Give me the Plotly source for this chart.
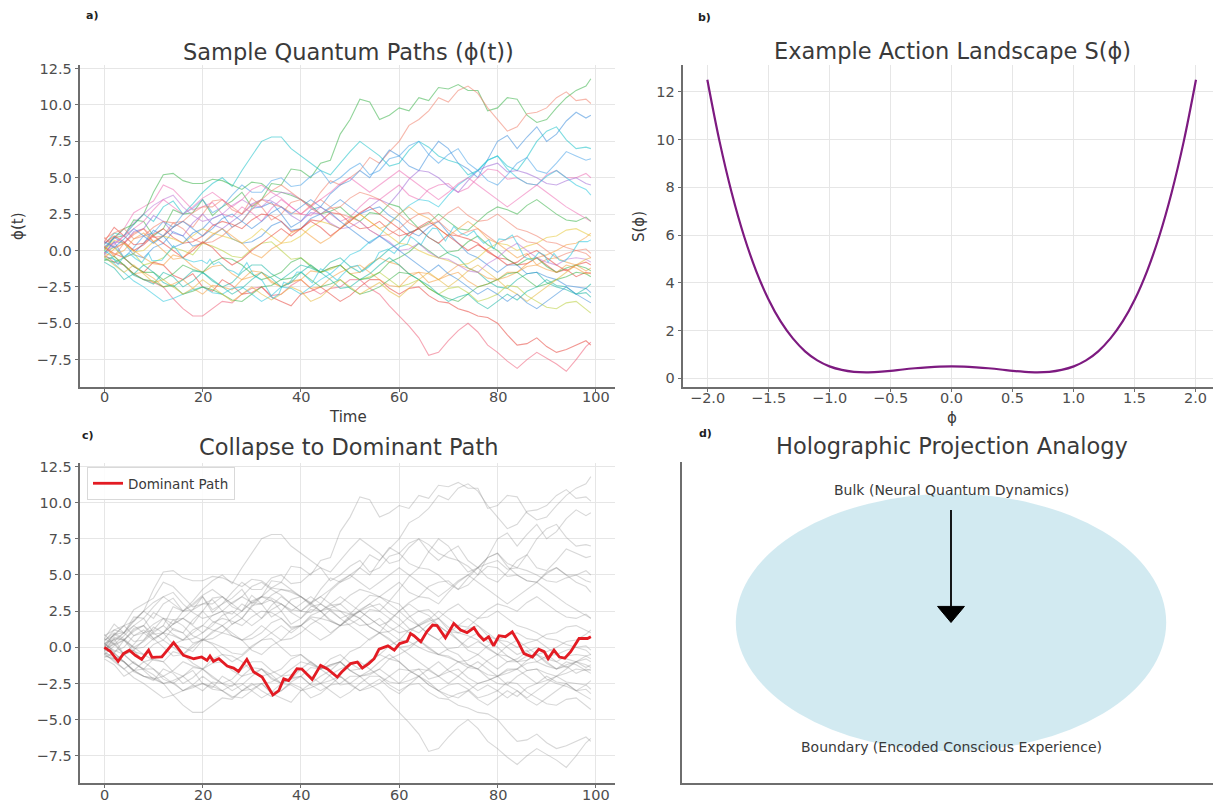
import plotly.graph_objects as go

# ---------------- data ----------------
path_t = [0, 2, 4, 6, 8, 10, 12, 14, 16, 18, 20, 22, 24, 26, 28, 30, 32, 34, 36, 38, 40, 42, 44, 46, 48,
          50, 52, 54, 56, 58, 60, 62, 64, 66, 68, 70, 72, 74, 76, 78, 80, 82, 84, 86, 88, 90, 92, 94, 96, 98, 99]

path_01 = [0, 0.9, 1.0, 2.1, 2.0, 1.0, 1.5, 2.8, 2.5, 2.6, 3.5, 2.4, 3.0, 3.4, 4.0, 3.0, 3.5, 4.6, 4.5, 5.6,
           5.5, 5.0, 6.0, 6.2, 8.0, 9.0, 10.4, 10.2, 9.0, 9.3, 9.8, 9.6, 10.5, 10.3, 11.2, 11.1, 11.4, 11.0, 11.0, 9.6,
           9.8, 10.5, 10.4, 9.3, 8.8, 9.0, 9.8, 10.5, 11.0, 11.3, 11.8]
path_02 = [0.3, -0.4, 0.5, 1.2, 1.5, 0.6, 1.0, 1.9, 2.0, 1.6, 2.5, 3.4, 3.5, 2.8, 2.5, 3.6, 3.0, 2.1, 2.5, 3.3,
           3.5, 3.0, 4.0, 4.8, 4.5, 5.0, 5.5, 6.4, 6.0, 6.8, 7.5, 8.6, 9.0, 9.6, 10.5, 10.2, 11.0, 11.3, 10.8, 9.8,
           9.0, 8.2, 8.5, 9.4, 9.5, 9.8, 10.5, 10.9, 10.3, 10.4, 10.1]
path_03 = [-0.2, 0.6, -0.5, -0.2, 0.5, 1.4, 1.0, 0.2, 0.5, 1.2, 1.5, 2.2, 2.5, 1.6, 2.0, 2.9, 3.0, 3.3, 2.5, 1.6,
           2.0, 2.8, 3.0, 3.9, 4.5, 4.8, 5.5, 5.0, 6.0, 6.9, 6.5, 5.8, 5.5, 6.6, 7.5, 7.0, 6.0, 5.6, 5.0, 6.3,
           7.5, 7.9, 7.0, 7.8, 8.5, 7.5, 8.0, 8.9, 9.5, 9.1, 9.3]
path_04 = [0.4, 1.2, 1.0, 1.8, 2.5, 2.0, 3.0, 3.4, 2.5, 3.2, 4.0, 4.6, 5.0, 4.4, 5.5, 6.5, 7.5, 7.8, 7.8, 7.0,
           6.5, 6.0, 5.5, 5.2, 6.0, 6.8, 7.5, 7.0, 6.5, 5.8, 6.0, 6.9, 7.5, 7.1, 6.5, 6.2, 6.0, 5.2, 5.5, 6.2,
           6.5, 5.8, 5.5, 6.4, 7.5, 8.2, 8.5, 7.6, 7.0, 7.1, 7.0]
path_05 = [-0.3, 0.3, -0.5, 0.2, 1.0, 1.2, 2.0, 1.6, 2.5, 2.9, 3.5, 2.6, 3.0, 3.8, 4.5, 4.0, 4.0, 4.8, 5.0, 4.4,
           4.5, 5.1, 5.5, 4.6, 5.0, 5.6, 6.0, 5.2, 5.5, 6.3, 6.5, 7.2, 7.5, 6.6, 6.0, 6.6, 7.0, 6.0, 5.5, 4.8,
           4.5, 5.2, 6.0, 6.4, 5.5, 5.3, 6.0, 6.8, 6.5, 6.2, 6.3]
path_06 = [0.5, 0.8, 1.5, 2.6, 3.0, 3.4, 4.5, 4.2, 3.5, 2.8, 3.0, 3.3, 2.5, 2.3, 3.0, 2.6, 2.0, 2.9, 3.5, 3.0,
           2.5, 2.4, 3.0, 2.5, 2.0, 2.3, 3.0, 3.6, 3.5, 4.0, 4.5, 3.8, 3.5, 4.2, 4.5, 4.6, 4.0, 4.3, 5.0, 5.6,
           5.5, 4.9, 5.0, 4.6, 4.5, 5.2, 5.5, 5.0, 5.0, 5.3, 5.0]
path_07 = [-0.2, 0.6, 0.5, 1.3, 1.5, 2.4, 2.0, 1.2, 1.0, 1.9, 2.5, 1.8, 1.5, 2.0, 2.5, 3.2, 3.5, 3.4, 3.0, 2.4,
           2.0, 2.6, 2.5, 1.8, 1.5, 2.1, 2.5, 3.0, 3.5, 3.2, 4.0, 4.9, 5.5, 5.4, 5.0, 4.4, 4.0, 4.8, 5.5, 5.8,
           6.0, 5.4, 5.5, 5.3, 5.0, 4.6, 4.5, 4.8, 5.0, 4.6, 4.5]
path_08 = [0.2, 0.9, 1.5, 1.8, 2.5, 4.0, 5.2, 5.3, 4.8, 4.6, 4.6, 4.9, 4.8, 4.5, 4.2, 4.7, 4.6, 4.1, 4.0, 3.8,
           3.5, 3.1, 2.5, 2.7, 3.0, 2.4, 2.0, 2.6, 2.5, 3.2, 3.0, 2.2, 1.5, 1.9, 2.5, 2.0, 1.5, 1.4, 2.0, 2.6,
           3.0, 2.8, 2.5, 3.1, 3.5, 3.0, 2.5, 2.1, 2.0, 2.3, 2.0]
path_09 = [-0.4, -0.6, -1.0, -1.7, -2.0, -2.3, -1.5, -1.8, -2.5, -2.1, -1.5, -2.0, -2.5, -2.2, -1.5, -1.0, -1.0,
           -1.6, -2.0, -1.5, -1.0, -1.2, -1.5, -0.8, -0.5, -1.1, -1.5, -1.0, -0.5, 0.1, 0.5, 1.2, 1.5, 0.9, 0.5,
           -0.2, -0.5, -1.2, -1.5, -2.1, -2.5, -2.6, -2.0, -1.6, -1.5, -2.2, -2.5, -2.7, -3.0, -2.9, -3.2]
path_10 = [0.1, 0.9, 0.5, -0.3, -0.5, 0.2, 0.5, 1.3, 1.0, 0.3, 0.5, 1.0, 1.5, 0.8, 0.5, 0.6, 1.0, 1.7, 2.0, 1.4,
           1.5, 2.2, 2.5, 3.0, 3.5, 3.0, 2.5, 2.8, 3.0, 2.4, 2.0, 1.3, 1.0, 1.6, 2.0, 1.2, 0.5, -0.2, -0.5, -1.0,
           -1.5, -1.0, -1.0, -1.6, -1.5, -1.8, -2.0, -2.4, -2.5, -2.6, -2.9]
path_11 = [-0.1, 0.2, -0.5, -0.2, -1.0, -0.8, -0.5, 0.2, 0.0, -0.3, 0.5, 0.3, 0.0, -0.4, -0.5, 0.1, 0.5, 0.6, 0.0,
           -0.6, -0.5, -1.0, -1.5, -1.3, -1.0, -1.6, -2.0, -1.8, -1.5, -2.0, -2.5, -2.3, -2.0, -2.6, -3.0, -2.6,
           -2.5, -2.9, -3.5, -3.3, -3.0, -2.4, -2.5, -3.1, -3.5, -3.9, -4.0, -3.6, -3.5, -4.0, -4.3]
path_12 = [-0.3, -0.8, -1.0, -1.6, -2.0, -2.2, -2.5, -3.3, -4.0, -4.5, -4.5, -4.0, -3.5, -3.6, -3.0, -2.6, -2.5,
           -3.1, -3.0, -2.4, -2.0, -2.6, -3.0, -2.6, -2.5, -2.0, -2.0, -2.6, -3.0, -3.8, -4.5, -5.2, -6.0, -7.2,
           -7.0, -6.2, -5.5, -5.0, -5.6, -6.5, -7.0, -7.6, -8.1, -7.5, -7.0, -7.4, -7.8, -8.3, -7.5, -6.6, -6.3]
path_13 = [0.2, -0.2, -0.5, -1.1, -1.5, -0.8, -1.0, -1.7, -2.0, -1.6, -2.5, -2.8, -2.0, -2.4, -3.0, -2.9, -2.5,
           -3.2, -3.5, -3.8, -3.0, -2.8, -2.5, -3.0, -3.5, -3.1, -2.5, -2.0, -2.0, -2.6, -3.0, -2.6, -2.5, -3.1,
           -3.5, -3.6, -4.0, -4.2, -4.5, -4.6, -5.0, -5.8, -6.5, -6.4, -6.0, -6.6, -7.0, -6.8, -6.5, -6.2, -6.5]
path_14 = [-0.2, -0.4, -1.0, -1.6, -1.5, -1.9, -2.5, -2.3, -2.0, -2.6, -3.0, -2.4, -2.5, -2.7, -2.0, -1.8, -1.5,
           -2.1, -2.5, -2.2, -2.0, -1.4, -1.5, -1.2, -1.0, -1.6, -1.5, -0.9, -0.5, -0.8, -1.0, -1.6, -1.5, -2.2,
           -2.0, -1.5, -1.0, -1.2, -1.5, -1.9, -2.0, -1.8, -1.5, -1.1, -1.0, -0.6, -0.5, -0.8, -1.0, -1.4, -1.2]
path_15 = [0.6, 1.6, 1.0, 0.4, 0.5, 1.1, 1.5, 0.9, 0.5, 0.6, 1.0, 1.7, 2.0, 1.8, 1.5, 2.1, 2.5, 2.4, 2.0, 1.3,
           1.5, 2.1, 2.0, 2.6, 2.5, 1.9, 1.5, 1.6, 2.0, 1.4, 1.0, 1.2, 1.5, 0.9, 0.5, 1.1, 1.0, 0.8, 0.5, -0.1,
           -0.5, -0.6, -1.0, -0.9, -0.5, -1.0, -1.5, -1.3, -1.8, -1.5, -1.6]
path_16 = [-0.5, 0.1, 0.5, 0.0, -0.5, -0.9, -1.0, -0.3, -0.5, -1.1, -1.5, -1.1, -1.0, -1.6, -2.0, -1.4, -1.5, -2.2,
           -2.5, -2.1, -2.0, -2.6, -2.5, -1.9, -1.5, -1.2, -1.0, -1.5, -2.0, -2.4, -2.5, -1.8, -1.5, -1.6, -2.0,
           -1.7, -1.5, -2.1, -2.5, -2.3, -2.0, -1.5, -1.5, -0.9, -0.5, -0.3, 0.0, 0.4, 0.5, 0.9, 1.2]
path_17 = [0.8, 1.2, 1.5, 0.8, 1.0, 1.6, 2.0, 1.9, 1.5, 0.8, 0.5, 0.6, 1.0, 1.6, 2.0, 2.8, 3.5, 3.2, 3.0, 2.6,
           2.5, 3.1, 3.5, 3.0, 2.5, 2.3, 2.0, 1.4, 1.0, 1.1, 1.5, 2.1, 2.5, 2.6, 2.0, 2.6, 3.0, 2.4, 2.0, 2.1,
           2.5, 2.0, 1.5, 1.3, 1.0, 0.6, 0.5, 0.2, 0.0, -0.2, -0.5]
path_18 = [-0.6, -0.8, -0.5, -1.1, -1.5, -1.5, -2.0, -1.6, -1.0, -1.3, -1.5, -0.8, -0.5, -0.6, -1.0, -1.6, -2.0,
           -1.8, -1.5, -0.8, -0.5, -1.1, -1.5, -1.2, -1.0, -1.6, -2.0, -1.9, -1.5, -0.8, -0.5, -0.1, 0.5, 0.0,
           -0.5, -0.1, 0.0, 0.6, 1.0, 0.4, 0.0, -0.6, -1.0, -0.6, -0.5, -1.1, -1.5, -1.2, -1.0, -1.2, -1.4]
path_19 = [0.0, 0.7, 0.5, -0.1, 0.0, 0.6, 1.0, 0.8, 0.5, 1.0, 1.5, 1.2, 1.0, 0.8, 0.5, 0.9, 1.5, 1.0, 0.5, 0.6,
           1.0, 1.6, 2.0, 1.8, 1.5, 2.0, 2.5, 2.0, 1.5, 1.0, 0.5, 0.4, 0.0, -0.3, -0.5, -0.7, -1.0, -0.9, -0.5,
           0.1, 0.5, 0.4, 0.0, 0.3, 0.5, 0.9, 1.0, 1.4, 1.5, 1.2, 1.0]
path_20 = [0.3, 0.5, 1.0, 1.9, 2.5, 3.1, 3.5, 3.8, 3.0, 2.4, 2.0, 2.2, 2.5, 3.1, 3.5, 3.1, 3.0, 3.6, 4.0, 3.9,
           3.5, 3.0, 2.5, 1.9, 1.5, 1.6, 2.0, 1.4, 1.0, 0.6, 0.0, 0.1, 0.5, -0.1, -0.5, -0.6, -1.0, -1.4, -1.5,
           -0.9, -0.5, 0.1, 0.5, 0.0, -0.5, -0.8, -1.0, -0.6, -0.5, -0.6, -0.8]
path_21 = [-0.5, -0.9, -1.5, -2.1, -2.5, -3.0, -3.5, -3.3, -3.0, -2.7, -2.5, -2.9, -3.0, -2.6, -2.5, -3.0, -3.5,
           -3.1, -2.5, -2.6, -3.0, -2.5, -2.0, -1.6, -1.0, -0.3, 0.0, 0.6, 1.0, 1.9, 2.5, 3.1, 3.5, 3.4, 3.0, 3.8,
           4.5, 5.0, 5.5, 6.2, 6.5, 5.6, 5.0, 4.6, 4.5, 5.1, 5.5, 5.0, 4.5, 4.2, 3.8]
path_22 = [0.9, 0.2, 0.5, 1.1, 1.5, 0.9, 1.0, 1.6, 2.0, 2.6, 3.0, 3.0, 3.5, 3.0, 2.5, 3.1, 3.5, 4.1, 4.5, 4.0,
           3.5, 2.9, 2.5, 2.9, 3.0, 3.6, 4.0, 3.8, 3.5, 3.0, 2.5, 1.9, 1.5, 1.8, 2.0, 1.4, 1.0, 1.3, 1.5, 1.0,
           0.5, 0.8, 1.0, 0.6, 0.5, 0.0, -0.5, -0.2, 0.0, 0.1, -0.2]
path_23 = [-0.7, -0.4, -1.0, -1.6, -2.0, -2.1, -2.5, -2.4, -3.0, -2.8, -2.5, -2.7, -3.0, -3.4, -3.5, -3.0, -2.5,
           -2.4, -2.0, -1.9, -1.5, -2.0, -2.5, -2.3, -2.0, -2.6, -3.0, -2.8, -2.5, -2.0, -1.5, -1.6, -2.0, -2.6,
           -3.0, -3.3, -3.5, -3.0, -2.5, -2.3, -2.0, -1.6, -1.5, -2.0, -2.5, -2.3, -2.0, -1.8, -1.5, -1.6, -1.8]
path_24 = [0.3, -0.3, 0.0, 0.8, 1.2, 0.6, 0.0, -0.6, -0.5, 0.2, 0.5, 1.1, 1.5, 1.0, 0.5, -0.2, -0.5, 0.1, 0.5, 1.2,
           1.5, 1.0, 0.5, 0.9, 1.5, 2.2, 2.5, 2.0, 1.5, 1.8, 2.5, 3.0, 2.5, 2.2, 1.5, 1.0, 1.5, 2.0, 1.5, 0.8,
           0.5, 0.0, -0.5, -0.2, -1.0, -1.3, -1.5, -1.0, -1.2, -1.6, -1.5]
path_25 = [-0.8, -1.2, -2.0, -1.6, -1.0, -1.5, -2.2, -2.5, -2.0, -1.4, -1.5, -2.1, -2.5, -3.0, -2.6, -2.0, -1.5,
           -1.9, -2.5, -2.2, -1.5, -1.0, -1.5, -2.0, -2.6, -2.5, -2.0, -1.6, -1.0, -0.5, -1.0, -1.6, -2.0, -2.4,
           -3.0, -3.5, -3.2, -3.0, -3.6, -4.0, -3.5, -3.0, -3.4, -2.8, -2.5, -2.0, -2.4, -2.5, -3.0, -2.6, -2.3]
path_26 = [0.5, 1.0, 0.6, 0.0, 0.4, 1.0, 0.5, 0.0, -0.5, 0.0, 0.6, 0.2, -0.5, -1.0, -0.6, 0.0, 0.5, 1.0, 1.5, 1.0,
           1.5, 2.0, 1.6, 1.0, 1.5, 2.0, 2.6, 3.0, 2.5, 2.0, 1.5, 1.0, 1.6, 2.0, 1.5, 1.0, 0.5, 0.0, 0.4, 0.0,
           -0.5, -1.0, -0.8, -0.3, 0.0, -0.5, -1.0, -1.4, -1.0, -0.8, -1.0]
path_27 = [-0.2, 0.4, 1.0, 1.5, 2.0, 2.8, 3.5, 3.0, 2.5, 3.0, 3.6, 4.0, 3.5, 3.0, 3.5, 4.2, 4.5, 4.0, 3.6, 3.0,
           2.5, 3.0, 3.5, 4.0, 4.6, 5.0, 4.5, 4.0, 4.5, 5.0, 5.5, 5.0, 4.5, 4.0, 3.5, 4.0, 4.6, 5.0, 4.5, 4.0,
           3.5, 3.0, 3.5, 4.0, 4.5, 4.0, 3.5, 3.0, 2.6, 2.2, 2.0]
path_28 = [-0.4, -1.0, -1.5, -1.0, -1.6, -2.2, -2.0, -2.5, -3.0, -2.6, -2.0, -2.5, -3.0, -3.5, -3.0, -2.5, -3.0,
           -3.4, -3.0, -2.5, -2.8, -3.5, -3.2, -2.6, -2.0, -2.5, -3.0, -2.6, -2.2, -2.8, -3.2, -2.6, -2.0, -1.5,
           -2.0, -2.5, -2.0, -1.4, -1.0, -1.5, -2.0, -2.6, -3.0, -3.5, -3.0, -2.5, -2.0, -1.5, -1.0, -0.6, -0.5]
path_29 = [0.6, 0.2, 0.8, 1.5, 1.0, 0.5, 1.0, 1.6, 2.0, 1.5, 1.0, 1.5, 2.2, 2.5, 2.0, 1.5, 2.0, 2.6, 3.0, 2.5,
           3.0, 3.5, 3.0, 2.6, 2.0, 1.5, 1.0, 0.5, 1.0, 0.5, 0.0, -0.5, -1.0, -1.5, -1.0, -1.6, -2.0, -2.5, -3.0,
           -2.6, -3.0, -3.5, -3.0, -3.6, -4.0, -3.5, -3.0, -2.5, -3.0, -3.4, -3.6]

dominant_t = [0, 1.2, 2.8, 3.9, 5.1, 6.3, 7.6, 9.0, 9.7, 11.7, 14.1, 16.1, 18.2, 19.8, 20.9, 21.5, 22.2, 23.3,
              25.0, 26.3, 27.3, 29.0, 30.4, 32.1, 34.3, 35.5, 36.5, 37.5, 39.2, 40.2, 42.3, 44.0, 45.4, 47.4,
              48.3, 50.1, 51.5, 52.5, 53.8, 54.9, 55.9, 57.7, 59.0, 60.1, 61.6, 62.3, 63.0, 64.4, 65.6, 66.8,
              67.7, 69.4, 71.1, 72.5, 73.8, 75.2, 76.2, 77.2, 78.2, 79.2, 80.3, 81.6, 83.0, 84.2, 85.4, 87.1,
              88.4, 89.5, 90.3, 91.5, 92.6, 93.7, 94.9, 96.6, 98.3, 99]
dominant_phi = [0.0, -0.27, -0.97, -0.44, -0.2, -0.55, -0.83, -0.2, -0.7, -0.67, 0.33, -0.55, -0.79, -0.67, -0.9,
                -0.6, -0.97, -0.78, -1.3, -1.44, -1.67, -0.83, -1.71, -2.06, -3.3, -3.0, -2.18, -2.3, -1.48, -1.5,
                -2.23, -1.25, -1.5, -2.06, -1.71, -1.13, -1.02, -1.44, -1.13, -0.79, -0.13, 0.1, -0.2, 0.26, 0.42,
                0.95, 0.8, 0.38, 1.07, 1.54, 1.5, 0.65, 1.65, 1.2, 1.02, 1.35, 0.85, 0.49, 0.73, 0.1, 0.8, 0.73,
                1.07, 0.38, -0.44, -0.67, -0.13, -0.3, -0.79, -0.2, -0.67, -0.75, -0.3, 0.61, 0.61, 0.73]

phi_grid = [-2.0, -1.9, -1.8, -1.7, -1.6, -1.5, -1.4, -1.3, -1.2, -1.1, -1.0, -0.9, -0.8, -0.7, -0.6, -0.5, -0.4,
            -0.3, -0.2, -0.1, 0.0, 0.1, 0.2, 0.3, 0.4, 0.5, 0.6, 0.7, 0.8, 0.9, 1.0, 1.1, 1.2, 1.3, 1.4, 1.5, 1.6,
            1.7, 1.8, 1.9, 2.0]
action_S = [12.5, 9.92, 7.76, 5.96, 4.49, 3.31, 2.38, 1.67, 1.13, 0.75, 0.5, 0.35, 0.27, 0.25, 0.27, 0.31, 0.37,
            0.42, 0.46, 0.49, 0.5, 0.49, 0.46, 0.42, 0.37, 0.31, 0.27, 0.25, 0.27, 0.35, 0.5, 0.75, 1.13, 1.67, 2.38,
            3.31, 4.49, 5.96, 7.76, 9.92, 12.5]

time_ticks = [0, 20, 40, 60, 80, 100]
phi_ticks = [-7.5, -5.0, -2.5, 0.0, 2.5, 5.0, 7.5, 10.0, 12.5]
s_xticks = [-2.0, -1.5, -1.0, -0.5, 0.0, 0.5, 1.0, 1.5, 2.0]
s_yticks = [0, 2, 4, 6, 8, 10, 12]

# analogy panel (axes units 0..1)
ellipse_center = (0.5, 0.5)
ellipse_size = (0.8, 0.8)
arrow_x, arrow_y_start, arrow_dy = 0.5, 0.85, -0.3
arrow_head_w, arrow_head_len = 0.05, 0.05
bulk_text_y, boundary_text_y = 0.912, 0.114

all_paths = [path_01, path_02, path_03, path_04, path_05, path_06, path_07, path_08, path_09, path_10,
             path_11, path_12, path_13, path_14, path_15, path_16, path_17, path_18, path_19, path_20,
             path_21, path_22, path_23, path_24, path_25, path_26, path_27, path_28, path_29]
path_colors = ["#3cb44b", "#f07f6a", "#3e8edc", "#19c2c9", "#4aa3e8", "#ef6fb5", "#a06ad6", "#3cb44b",
               "#19b7a5", "#3e8edc", "#b9cf3a", "#f0607a", "#e8453c", "#f5a142", "#e8453c", "#f5a142",
               "#f07f6a", "#3cb44b", "#e6c83a", "#c07ad6", "#2ac7de", "#f07f6a", "#3cb44b",
               "#f5a142", "#19b7a5", "#e8453c", "#ef6fb5", "#e6b83a", "#3e8edc"]

# ---------------- geometry ----------------
# The page body keeps its default 8px margin, so the figure is drawn 8px in from the
# window's top-left corner; the figure is sized to end exactly at the window's edges.
PAGE_OFFSET = 8
WIN_W, WIN_H = 1221, 805
W, H = WIN_W - PAGE_OFFSET, WIN_H - PAGE_OFFSET


def fx(p):
    """window pixel x -> paper x"""
    return (p - PAGE_OFFSET) / W


def fy(p):
    """window pixel y (from top) -> paper y"""
    return 1 - (p - PAGE_OFFSET) / H


FONT = "DejaVu Sans"
TICK_SIZE = 14.5
TICK_COLOR = "#4d4d4d"
TICK_FONT = dict(family=FONT, size=TICK_SIZE, color=TICK_COLOR)
GRID = "#e6e6e6"
SPINE = "#6e6e6e"
TXT = "#3a3a3a"

fig = go.Figure()

# panel a
for vals, col in zip(all_paths, path_colors):
    fig.add_trace(go.Scatter(x=path_t, y=vals, mode="lines", line=dict(color=col, width=1.1),
                             opacity=0.55, showlegend=False, hoverinfo="skip", xaxis="x", yaxis="y"))
fig.add_trace(go.Scatter(x=dominant_t, y=dominant_phi, mode="lines", line=dict(color="#2ac7de", width=1.1),
                         opacity=0.55, showlegend=False, hoverinfo="skip", xaxis="x", yaxis="y"))

# panel b
fig.add_trace(go.Scatter(x=phi_grid, y=action_S, mode="lines", line=dict(color="#7d1a80", width=2.2),
                         line_shape="spline", showlegend=False, xaxis="x2", yaxis="y2"))

# panel c
for vals in all_paths:
    fig.add_trace(go.Scatter(x=path_t, y=vals, mode="lines", line=dict(color="gray", width=1.1),
                             opacity=0.3, showlegend=False, hoverinfo="skip", xaxis="x3", yaxis="y3"))
fig.add_trace(go.Scatter(x=dominant_t, y=dominant_phi, mode="lines", line=dict(color="#e31b23", width=2.8),
                         name="Dominant Path", showlegend=True, xaxis="x3", yaxis="y3"))

# panel d (invisible anchor trace)
fig.add_trace(go.Scatter(x=[0, 1], y=[0, 1], mode="markers", marker=dict(opacity=0), showlegend=False,
                         hoverinfo="skip", xaxis="x4", yaxis="y4"))


def axis_common(**kw):
    d = dict(showline=True, linecolor=SPINE, linewidth=1.6, ticks="outside", ticklen=3.5, tickcolor=SPINE,
             tickwidth=1.2, showgrid=True, gridcolor=GRID, gridwidth=1, zeroline=False, tickfont=TICK_FONT,
             mirror=False, automargin=False)
    d.update(kw)
    return d


t_rng = [-4.95, 103.95]
p_rng = [-9.38, 12.72]

fig.update_layout(
    width=W, height=H, margin=dict(l=0, r=0, t=0, b=0, autoexpand=False),
    paper_bgcolor="white", plot_bgcolor="white",
    font=dict(family=FONT, color=TXT),
    xaxis=axis_common(domain=[fx(80), fx(615.2)], range=t_rng, tickvals=time_ticks, anchor="y",
                      showticklabels=False),
    yaxis=axis_common(domain=[fy(387), fy(65.4)], range=p_rng, tickvals=phi_ticks, tickformat=".1f", anchor="x"),
    xaxis2=axis_common(domain=[fx(682.9), fx(1220.4)], range=[-2.2, 2.2], tickvals=s_xticks, anchor="y2",
                       showticklabels=False),
    yaxis2=axis_common(domain=[fy(386.9), fy(65.2)], range=[-0.36, 13.11], tickvals=s_yticks, anchor="x2"),
    xaxis3=axis_common(domain=[fx(80), fx(615.2)], range=t_rng, tickvals=time_ticks, anchor="y3",
                       showticklabels=False),
    yaxis3=axis_common(domain=[fy(783), fy(463.3)], range=p_rng, tickvals=phi_ticks, tickformat=".1f",
                       anchor="x3"),
    xaxis4=dict(domain=[fx(682), fx(1220)], range=[0, 1], showline=True, linecolor=SPINE, linewidth=1.6,
                ticks="", showticklabels=False, showgrid=False, zeroline=False, anchor="y4", automargin=False),
    yaxis4=dict(domain=[fy(783.3), fy(461.7)], range=[0, 1], showline=True, linecolor=SPINE, linewidth=1.6,
                ticks="", showticklabels=False, showgrid=False, zeroline=False, anchor="x4", automargin=False),
    legend=dict(x=fx(87), y=fy(467), xanchor="left", yanchor="top", bgcolor="rgba(255,255,255,0.85)",
                bordercolor="#d9d9d9", borderwidth=1, font=dict(family=FONT, size=13.5, color=TXT),
                itemwidth=30, tracegroupgap=0),
)


# x tick labels placed close under each bottom spine (as in the reference)
def fmt_tick(v, decimals):
    s = f"{v:.{decimals}f}"
    return s.replace("-", "\u2212")


for xref, vals, dec, ypx in [("x", time_ticks, 0, 397), ("x2", s_xticks, 1, 398), ("x3", time_ticks, 0, 795)]:
    for v in vals:
        fig.add_annotation(x=v, y=fy(ypx), xref=xref, yref="paper", text=fmt_tick(v, dec), showarrow=False,
                           xanchor="center", yanchor="middle", font=TICK_FONT)

# ellipse and arrow
cx, cy = ellipse_center
ew, eh = ellipse_size
fig.add_shape(type="circle", xref="x4", yref="y4", x0=cx - ew / 2, x1=cx + ew / 2, y0=cy - eh / 2,
              y1=cy + eh / 2, fillcolor="#add8e6", opacity=0.55, line=dict(width=0), layer="below")
y_head_base = arrow_y_start + arrow_dy
y_tip = y_head_base - arrow_head_len
fig.add_shape(type="line", xref="x4", yref="y4", x0=arrow_x, x1=arrow_x, y0=arrow_y_start, y1=y_head_base,
              line=dict(color="black", width=1.8))
fig.add_shape(type="path", xref="x4", yref="y4",
              path=f"M {arrow_x - arrow_head_w / 2},{y_head_base} L {arrow_x + arrow_head_w / 2},{y_head_base} "
                   f"L {arrow_x},{y_tip} Z",
              fillcolor="black", line=dict(color="black", width=1))

fig.add_annotation(x=0.5, y=bulk_text_y, xref="x4", yref="y4", text="Bulk (Neural Quantum Dynamics)",
                   showarrow=False, yanchor="middle", font=dict(family=FONT, size=14, color=TXT))
fig.add_annotation(x=0.5, y=boundary_text_y, xref="x4", yref="y4", text="Boundary (Encoded Conscious Experience)",
                   showarrow=False, yanchor="middle", font=dict(family=FONT, size=14, color=TXT))

# titles, axis labels and panel labels
titles = [("Sample Quantum Paths (ϕ(t))", 348, 52), ("Example Action Landscape S(ϕ)", 952, 51),
          ("Collapse to Dominant Path", 348, 447), ("Holographic Projection Analogy", 952, 446)]
for txt, x, y in titles:
    fig.add_annotation(x=fx(x), y=fy(y), xref="paper", yref="paper", text=txt, showarrow=False,
                       xanchor="center", yanchor="middle", font=dict(family=FONT, size=22.5, color=TXT))

axis_labels = [("Time", 348, 417, 0), ("ϕ(t)", 18, 227, -90), ("ϕ", 952, 418, 0), ("S(ϕ)", 639, 227, -90)]
for txt, x, y, ang in axis_labels:
    fig.add_annotation(x=fx(x), y=fy(y), xref="paper", yref="paper", text=txt, showarrow=False, textangle=ang,
                       xanchor="center", yanchor="middle", font=dict(family=FONT, size=15, color=TXT))

labels = [("a)", 92, 16), ("b)", 704, 17), ("c)", 88, 435), ("d)", 705, 433)]
for txt, x, y in labels:
    fig.add_annotation(x=fx(x), y=fy(y), xref="paper", yref="paper", text=f"<b>{txt}</b>", showarrow=False,
                       xanchor="center", yanchor="middle", font=dict(family=FONT, size=11, color="#222"))

fig.write_html("out.html")
